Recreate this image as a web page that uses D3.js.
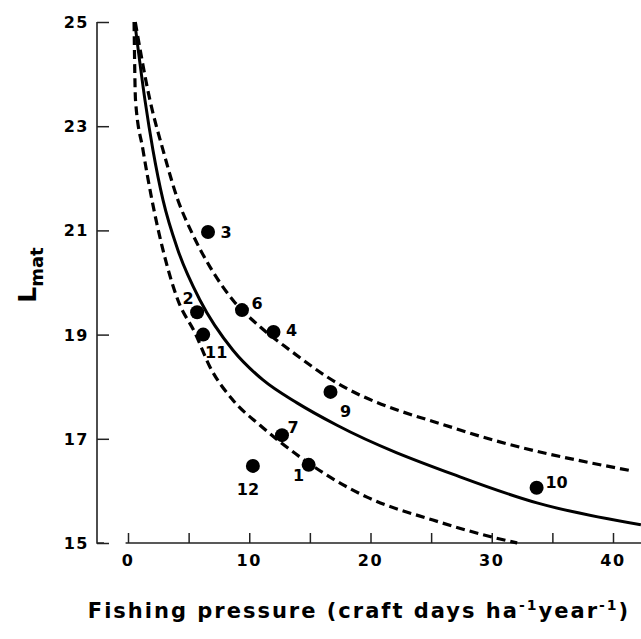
<!DOCTYPE html>
<html>
<head>
<meta charset="utf-8">
<script src="https://cdn.jsdelivr.net/npm/d3@7"></script>
<style>
  body { margin: 0; background: #fff; }
  text { font-family: "DejaVu Sans", sans-serif; font-weight: bold; fill: #000; }
</style>
</head>
<body>
<div id="chart"></div>
<script>
const width = 641, height = 639;

// lakes: id, fishing pressure, Lmat
const ids = ["1", "2", "3", "4", "6", "7", "9", "10", "11", "12"];
const pressure = [14.9, 5.7, 6.6, 12.0, 9.4, 12.7, 16.7, 33.7, 6.2, 10.3];
const lmat = [16.5, 19.43, 20.97, 19.05, 19.47, 17.07, 17.9, 16.06, 19.0, 16.48];

// fitted curve (solid) and the two confidence bands (dashed)
const fitX = [0.58, 1.4, 2.06, 2.89, 4.12, 5.94, 8.66, 11.13, 13.94, 17.24, 27.38, 33.73, 42.3];
const fitY = [24.95, 23.5, 22.54, 21.58, 20.62, 19.66, 18.7, 18.13, 17.69, 17.26, 16.27, 15.77, 15.35];
const upperX = [0.6, 1.81, 2.89, 4.12, 5.28, 6.76, 8.66, 10.89, 13.36, 16.41, 27.38, 41.65];
const upperY = [25.0, 23.5, 22.54, 21.58, 20.95, 20.3, 19.66, 19.15, 18.7, 18.19, 17.17, 16.38];
const lowerX = [0.5, 0.62, 1.24, 1.98, 2.89, 4.12, 5.53, 6.76, 8.66, 10.89, 14.19, 19.71, 25.15, 30.1, 32.1];
const lowerY = [25.0, 23.5, 22.54, 21.58, 20.62, 19.66, 19.03, 18.38, 17.74, 17.26, 16.65, 15.88, 15.44, 15.11, 15.0];

const xTicks = [0, 5, 10, 15, 20, 25, 30, 35, 40];
const xLabels = [0, 10, 20, 30, 40];
const yTicks = [15, 17, 19, 21, 23, 25];

// label placement next to each dot (px)
const labelOffset = {
  "1": [-10, 12], "2": [-9, -13], "3": [18, 2], "4": [18, 0], "6": [15, -6],
  "7": [11, -7], "9": [15, 21], "10": [20, -4], "11": [13, 19], "12": [-5, 25]
};

const x = d3.scaleLinear().domain([0, 40]).range([128, 613]);
const y = d3.scaleLinear().domain([15, 25]).range([543, 22]);

const svg = d3.select("#chart").append("svg")
  .attr("width", width).attr("height", height);

// y axis
const yAxis = svg.append("g").attr("transform", `translate(97,0)`)
  .call(d3.axisRight(y).tickValues(yTicks).tickSize(12).tickFormat(""));
yAxis.select(".domain").remove();
yAxis.selectAll("line").attr("stroke", "#222").attr("stroke-width", 1.5);
svg.append("path")
  .attr("d", `M97,${y(25)}V543H104`)
  .attr("fill", "none").attr("stroke", "#222").attr("stroke-width", 1.6);
svg.selectAll(".ylab").data(yTicks).join("text")
  .attr("class", "ylab")
  .attr("x", 89).attr("y", d => y(d) + 6)
  .attr("text-anchor", "end")
  .attr("font-size", 16)
  .attr("letter-spacing", 1.5)
  .text(d => d);

// x axis
const xAxis = svg.append("g").attr("transform", `translate(0,543)`)
  .call(d3.axisTop(x).tickValues(xTicks).tickSize(10).tickFormat(""));
xAxis.select(".domain").remove();
xAxis.selectAll("line").attr("stroke", "#222").attr("stroke-width", 1.5);
svg.append("line")
  .attr("x1", x(-0.2)).attr("x2", width)
  .attr("y1", 543).attr("y2", 543)
  .attr("stroke", "#222").attr("stroke-width", 1.6);
svg.selectAll(".xlab").data(xLabels).join("text")
  .attr("class", "xlab")
  .attr("x", d => x(d)).attr("y", 566)
  .attr("text-anchor", "middle")
  .attr("font-size", 16)
  .attr("letter-spacing", 1.5)
  .text(d => d);

// curves
const line = d3.line().x(d => x(d[0])).y(d => y(d[1])).curve(d3.curveMonotoneX);

svg.append("path")
  .datum(d3.zip(fitX, fitY))
  .attr("d", line)
  .attr("fill", "none").attr("stroke", "#000").attr("stroke-width", 3);

svg.append("path")
  .datum(d3.zip(upperX, upperY))
  .attr("d", line)
  .attr("fill", "none").attr("stroke", "#000").attr("stroke-width", 3.2)
  .attr("stroke-dasharray", "9,5");

svg.append("path")
  .datum(d3.zip(lowerX, lowerY))
  .attr("d", line)
  .attr("fill", "none").attr("stroke", "#000").attr("stroke-width", 3.2)
  .attr("stroke-dasharray", "9,5");

// points
const pts = d3.zip(ids, pressure, lmat);
svg.selectAll(".dot").data(pts).join("circle")
  .attr("class", "dot")
  .attr("cx", d => x(d[1])).attr("cy", d => y(d[2]))
  .attr("r", 7).attr("fill", "#000");

svg.selectAll(".plab").data(pts).join("text")
  .attr("class", "plab")
  .attr("x", d => x(d[1]) + labelOffset[d[0]][0])
  .attr("y", d => y(d[2]) + labelOffset[d[0]][1])
  .attr("text-anchor", "middle")
  .attr("dominant-baseline", "middle")
  .attr("font-size", 16)
  .text(d => d[0]);

// axis titles
const yt = svg.append("text")
  .attr("transform", "translate(36,275) rotate(-90)")
  .attr("text-anchor", "middle")
  .attr("font-size", 25);
yt.append("tspan").text("L");
yt.append("tspan").attr("font-size", 18).attr("dy", 7).text("mat");

const xt = svg.append("text")
  .attr("x", 359).attr("y", 618)
  .attr("text-anchor", "middle")
  .attr("font-size", 21)
  .attr("letter-spacing", 2);
xt.append("tspan").text("Fishing pressure (craft days ha");
xt.append("tspan").attr("font-size", 14).attr("dy", -8).text("-1");
xt.append("tspan").attr("dy", 8).text("year");
xt.append("tspan").attr("font-size", 14).attr("dy", -8).text("-1");
xt.append("tspan").attr("dy", 8).text(")");
</script>
</body>
</html>
